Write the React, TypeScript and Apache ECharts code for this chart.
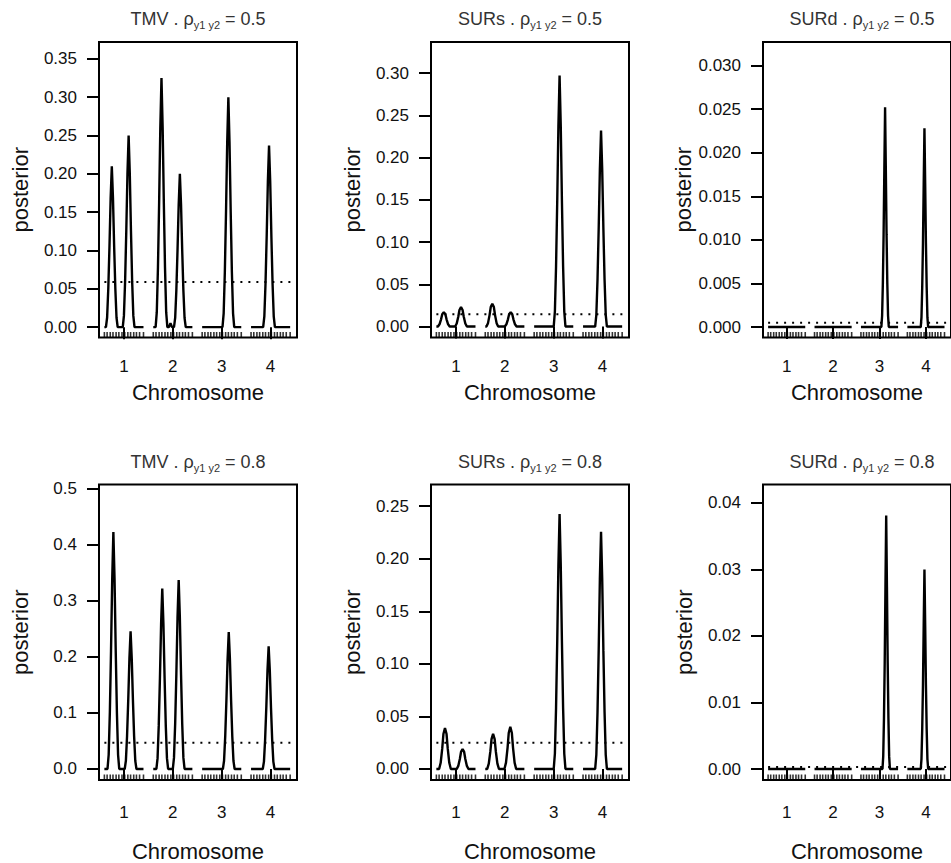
import { useEffect, useRef } from "react";
import * as echarts from "echarts";

type Pt = [number, number];

// ---- data: position along chromosome (cM, 0-100) and posterior value ----
const CHROMOSOMES = [1, 2, 3, 4];
const X_TICKS = [1, 2, 3, 4];
const MARKERS_CM = [0, 7, 15, 22, 30, 37, 45, 52, 60, 67, 75, 82, 90, 100];
const MODELS = ["TMV", "SURs", "SURd"];
const RHOS = ["0.5", "0.8"];

const TMV_05: Pt[][] = [
  [[0,0],[4,0],[7,0.0126],[10,0.0504],[13,0.105],[16,0.168],[19,0.21],[22,0.168],[25,0.105],[28,0.0504],[31,0.0126],[34,0],[47,0],[50,0.015],[53,0.06],[56,0.125],[59,0.2],[62,0.25],[65,0.2],[68,0.125],[71,0.06],[74,0.015],[77,0],[100,0]],
  [[0,0],[6,0],[9,0.0195],[12,0.078],[15,0.1625],[18,0.26],[21,0.325],[24,0.26],[27,0.1625],[30,0.078],[33,0.0195],[36,0],[40,0],[44,0.005],[48,0],[53,0],[56,0.012],[59,0.048],[62,0.1],[65,0.16],[68,0.2],[71,0.16],[74,0.1],[77,0.048],[80,0.012],[83,0],[100,0]],
  [[0,0],[52,0],[55,0.018],[58,0.072],[61,0.15],[64,0.24],[67,0.3],[70,0.24],[73,0.15],[76,0.072],[79,0.018],[82,0],[100,0]],
  [[0,0],[31,0],[34,0.0142],[37,0.0569],[40,0.1185],[43,0.1896],[46,0.237],[49,0.1896],[52,0.1185],[55,0.0569],[58,0.0142],[61,0],[100,0]],
];

const SURS_05: Pt[][] = [
  [[0,0],[4,0],[8,0.0026],[12,0.0085],[15,0.0145],[19,0.017],[23,0.0145],[26,0.0085],[30,0.0026],[34,0],[48,0],[52,0.0035],[56,0.0115],[59,0.0196],[63,0.023],[67,0.0196],[70,0.0115],[74,0.0035],[78,0],[100,0]],
  [[0,0],[3,0],[7,0.004],[11,0.0135],[14,0.023],[18,0.027],[22,0.023],[25,0.0135],[29,0.004],[33,0],[50,0],[54,0.0026],[58,0.0085],[61,0.0145],[65,0.017],[69,0.0145],[72,0.0085],[76,0.0026],[80,0],[100,0]],
  [[0,0],[50,0],[53,0.0178],[56,0.0713],[59,0.1485],[62,0.2376],[65,0.297],[68,0.2376],[71,0.1485],[74,0.0713],[77,0.0178],[80,0],[100,0]],
  [[0,0],[31,0],[34,0.0139],[37,0.0557],[40,0.116],[43,0.1856],[46,0.232],[49,0.1856],[52,0.116],[55,0.0557],[58,0.0139],[61,0],[100,0]],
];

const SURD_05: Pt[][] = [
  [[0,0],[100,0]],
  [[0,0],[100,0]],
  [[0,0],[55,0],[57,0.0013],[59,0.005],[61,0.0106],[63,0.0181],[65,0.0252],[67,0.0181],[69,0.0106],[71,0.005],[73,0.0013],[75,0],[100,0]],
  [[0,0],[36,0],[38,0.0011],[40,0.0046],[42,0.0096],[44,0.0164],[46,0.0228],[48,0.0164],[50,0.0096],[52,0.0046],[54,0.0011],[56,0],[100,0]],
];

const TMV_08: Pt[][] = [
  [[0,0],[8,0],[11,0.0254],[14,0.1015],[17,0.2115],[20,0.3384],[23,0.423],[26,0.3384],[29,0.2115],[32,0.1015],[35,0.0254],[38,0],[52,0],[55,0.0147],[58,0.0589],[61,0.1228],[64,0.1965],[67,0.2456],[70,0.1965],[73,0.1228],[76,0.0589],[79,0.0147],[82,0],[100,0]],
  [[0,0],[8,0],[11,0.0193],[14,0.0773],[17,0.161],[20,0.2576],[23,0.322],[26,0.2576],[29,0.161],[32,0.0773],[35,0.0193],[38,0],[50,0],[53,0.0202],[56,0.0809],[59,0.1685],[62,0.2696],[65,0.337],[68,0.2696],[71,0.1685],[74,0.0809],[77,0.0202],[80,0],[100,0]],
  [[0,0],[53,0],[56,0.0147],[59,0.0587],[62,0.1223],[65,0.1956],[68,0.2445],[71,0.1956],[74,0.1223],[77,0.0587],[80,0.0147],[83,0],[100,0]],
  [[0,0],[30,0],[33,0.0131],[36,0.0526],[39,0.1095],[42,0.1752],[45,0.219],[48,0.1752],[51,0.1095],[54,0.0526],[57,0.0131],[60,0],[100,0]],
];

const SURS_08: Pt[][] = [
  [[0,0],[7,0],[11,0.0059],[15,0.0195],[18,0.0332],[22,0.039],[26,0.0332],[29,0.0195],[33,0.0059],[37,0],[52,0],[56,0.0029],[60,0.0095],[63,0.0162],[67,0.019],[71,0.0162],[74,0.0095],[78,0.0029],[82,0],[100,0]],
  [[0,0],[5,0],[9,0.005],[13,0.0167],[16,0.0283],[20,0.0333],[24,0.0283],[27,0.0167],[31,0.005],[35,0],[49,0],[53,0.006],[57,0.0201],[60,0.0342],[64,0.0402],[68,0.0342],[71,0.0201],[75,0.006],[79,0],[100,0]],
  [[0,0],[50,0],[53,0.0145],[56,0.0582],[59,0.1212],[62,0.1939],[65,0.2424],[68,0.1939],[71,0.1212],[74,0.0582],[77,0.0145],[80,0],[100,0]],
  [[0,0],[31,0],[34,0.0135],[37,0.0541],[40,0.1128],[43,0.1805],[46,0.2256],[49,0.1805],[52,0.1128],[55,0.0541],[58,0.0135],[61,0],[100,0]],
];

const SURD_08: Pt[][] = [
  [[0,0],[100,0]],
  [[0,0],[100,0]],
  [[0,0],[58,0],[60,0.0019],[62,0.0076],[64,0.016],[66,0.0274],[68,0.0381],[70,0.0274],[72,0.016],[74,0.0076],[76,0.0019],[78,0],[100,0]],
  [[0,0],[36,0],[38,0.0015],[40,0.006],[42,0.0126],[44,0.0216],[46,0.03],[48,0.0216],[50,0.0126],[52,0.006],[54,0.0015],[56,0],[100,0]],
];

const THRESHOLDS = [0.059, 0.0145, 0.0005, 0.047, 0.025, 0.0003];

const Y_TICKS_TMV_05 = [0, 0.05, 0.1, 0.15, 0.2, 0.25, 0.3, 0.35];
const Y_TICKS_SURS_05 = [0, 0.05, 0.1, 0.15, 0.2, 0.25, 0.3];
const Y_TICKS_SURD_05 = [0, 0.005, 0.01, 0.015, 0.02, 0.025, 0.03];
const Y_TICKS_TMV_08 = [0, 0.1, 0.2, 0.3, 0.4, 0.5];
const Y_TICKS_SURS_08 = [0, 0.05, 0.1, 0.15, 0.2, 0.25];
const Y_TICKS_SURD_08 = [0, 0.01, 0.02, 0.03, 0.04];

// ---- layout / style ----
const FONT = "'Liberation Sans', Arial, Helvetica, sans-serif";
const COL_LEFT = [99, 431, 763];
const ROW_TOP = [42, 484.5];
const W = 198;
const H = 295.5;
const XMIN = 0.49;
const XMAX = 4.54;
const CHR_HALF = 0.4;
const CM_SCALE = 0.008;

const PANELS = [
  { data: TMV_05, ticks: Y_TICKS_TMV_05, dec: 2, yMin: -0.0135, yMax: 0.372, col: 0, row: 0 },
  { data: SURS_05, ticks: Y_TICKS_SURS_05, dec: 2, yMin: -0.013, yMax: 0.3367, col: 1, row: 0 },
  { data: SURD_05, ticks: Y_TICKS_SURD_05, dec: 3, yMin: -0.0012, yMax: 0.0327, col: 2, row: 0 },
  { data: TMV_08, ticks: Y_TICKS_TMV_08, dec: 1, yMin: -0.0197, yMax: 0.5077, col: 0, row: 1 },
  { data: SURS_08, ticks: Y_TICKS_SURS_08, dec: 2, yMin: -0.0105, yMax: 0.2706, col: 1, row: 1 },
  { data: SURD_08, ticks: Y_TICKS_SURD_08, dec: 2, yMin: -0.00165, yMax: 0.04276, col: 2, row: 1 },
];

function toX(chr: number, cm: number) {
  return chr - CHR_HALF + cm * CM_SCALE;
}

function buildOption() {
  const grid: any[] = [];
  const xAxis: any[] = [];
  const yAxis: any[] = [];
  const series: any[] = [];
  const graphic: any[] = [];

  PANELS.forEach((p, i) => {
    const left = COL_LEFT[p.col];
    const top = ROW_TOP[p.row];
    grid.push({
      left, top, width: W, height: H,
      show: true, borderColor: "#000", borderWidth: 2, backgroundColor: "transparent",
    });
    xAxis.push({
      type: "value", gridIndex: i, min: XMIN, max: XMAX,
      name: "Chromosome", nameLocation: "middle", nameGap: p.row === 0 ? 44 : 60,
      nameTextStyle: { fontSize: 22, fontFamily: FONT, color: "#111" },
      axisLine: { show: false }, splitLine: { show: false },
      axisTick: { show: true, customValues: X_TICKS, length: 12, lineStyle: { color: "#000", width: 2 } },
      axisLabel: {
        customValues: X_TICKS, fontSize: 17, fontFamily: FONT, color: "#111",
        margin: p.row === 0 ? 20 : 24, formatter: (v: number) => String(v),
      },
    });
    yAxis.push({
      type: "value", gridIndex: i, min: p.yMin, max: p.yMax,
      name: "posterior", nameLocation: "middle", nameGap: 68,
      nameTextStyle: { fontSize: 22, fontFamily: FONT, color: "#111" },
      axisLine: { show: false }, splitLine: { show: false },
      axisTick: { show: true, customValues: p.ticks, length: 12, lineStyle: { color: "#000", width: 2 } },
      axisLabel: {
        customValues: p.ticks, fontSize: 17, fontFamily: FONT, color: "#111", margin: 22,
        formatter: (v: number) => v.toFixed(p.dec),
      },
    });

    p.data.forEach((chrPts, ci) => {
      const chr = CHROMOSOMES[ci];
      series.push({
        type: "line", xAxisIndex: i, yAxisIndex: i, symbol: "none", silent: true,
        data: chrPts.map(([cm, v]) => [toX(chr, cm), v]),
        lineStyle: { color: "#000", width: 2.4 }, z: 3,
      });
    });

    series.push({
      type: "line", xAxisIndex: i, yAxisIndex: i, symbol: "none", silent: true,
      data: [[toX(1, 0), THRESHOLDS[i]], [XMAX, THRESHOLDS[i]]],
      lineStyle: { color: "#000", width: 2, type: [2, 6] }, z: 2,
    });

    series.push({
      type: "scatter", xAxisIndex: i, yAxisIndex: i, silent: true,
      data: CHROMOSOMES.flatMap((c) => MARKERS_CM.map((m) => [toX(c, m), p.yMin])),
      symbol: "rect", symbolSize: [1.6, 5], symbolOffset: [0, -3],
      itemStyle: { color: "#000" }, z: 4,
    });

    graphic.push({
      type: "text",
      x: left + W / 2,
      y: p.row === 0 ? 8 : 451,
      style: {
        text: `{m|${MODELS[p.col]} . ρ}{s|y1 y2}{m| = ${RHOS[p.row]}}`,
        align: "center",
        verticalAlign: "top",
        rich: {
          m: { fontSize: 18, fontFamily: FONT, fill: "#333", lineHeight: 22 },
          s: { fontSize: 11, fontFamily: FONT, fill: "#333", lineHeight: 11, verticalAlign: "bottom" },
        },
      },
    });
  });

  return { animation: false, grid, xAxis, yAxis, series, graphic };
}

export default function App() {
  const ref = useRef<HTMLDivElement>(null);
  useEffect(() => {
    if (!ref.current) return;
    const chart = echarts.init(ref.current, undefined, { renderer: "svg" });
    chart.setOption(buildOption() as any);
    return () => chart.dispose();
  }, []);
  return (
    <div
      ref={ref}
      style={{ position: "absolute", left: 0, top: 0, width: 951, height: 863, background: "#fff" }}
    />
  );
}
